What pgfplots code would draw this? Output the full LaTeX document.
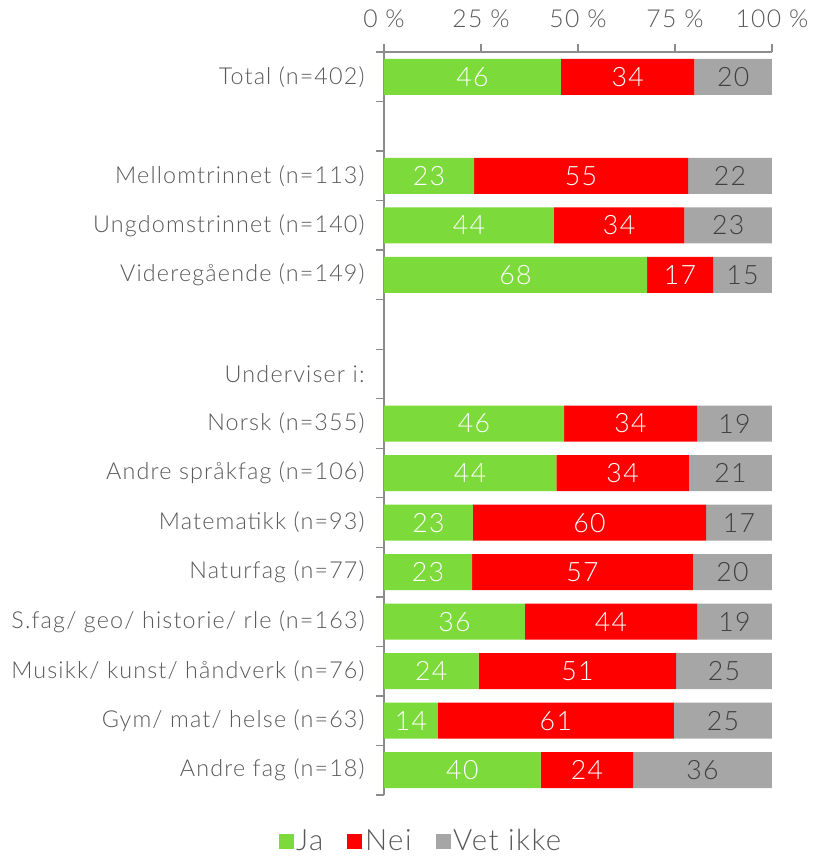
\documentclass[border=0pt]{standalone}
\usepackage{pgfplots}
\pgfplotsset{compat=1.18}
\usepackage{pgfplotstable}
\usepackage{fontspec}
\setmainfont{Lato Light}[LetterSpace=5]
\definecolor{cgreen}{HTML}{7CDA3A}
\definecolor{cred}{HTML}{FF0000}
\definecolor{cgray}{HTML}{A6A6A6}
\definecolor{txt}{HTML}{595959}
\definecolor{axgray}{HTML}{8C8C8C}
\pgfplotstableread{
y ja nei vet
0 45.6 34.4 20.0
2 23.2 55.2 21.6
3 43.8 33.6 22.6
4 67.8 17.0 15.2
7 46.4 34.3 19.3
8 44.4 34.2 21.4
9 22.9 60.1 17.0
10 22.7 56.9 20.4
11 36.3 44.4 19.3
12 24.4 50.9 24.7
13 13.9 60.8 25.3
14 40.4 23.8 35.8
}\data
\begin{document}
\begin{tikzpicture}
\path[use as bounding box] (0,0) rectangle (609.75pt,643.5pt);
\begin{axis}[
  at={(288pt,47.25pt)}, anchor=south west,
  scale only axis, width=291pt, height=557.25pt,
  xbar stacked, bar width=27pt, clip=false,
  /pgf/number format/assume math mode=true,
  xmin=0, xmax=100, ymin=-0.5, ymax=14.5, y dir=reverse,
  axis x line*=top, axis y line*=left,
  axis line style={draw=axgray, line width=1pt, -},
  tick align=outside,
  xtick={0,25,50,75,100},
  xticklabels={0 \%,25 \%,50 \%,75 \%,100 \%},
  xticklabel style={font=\fontsize{18.5}{18.5}\selectfont, text=txt, yshift=8.5pt},
  major x tick style={draw=axgray, line width=1pt},
  major tick length=6pt,
  ytick={0,2,3,4,6,7,8,9,10,11,12,13,14},
  yticklabels={Total (n=402),Mellomtrinnet (n=113),Ungdomstrinnet (n=140),Videregående (n=149),Underviser i:,Norsk (n=355),Andre språkfag (n=106),Matematikk (n=93),Naturfag (n=77),S.fag/ geo/ historie/ rle (n=163),Musikk/ kunst/ håndverk (n=76),Gym/ mat/ helse (n=63),Andre fag (n=18)},
  yticklabel style={font=\fontsize{17.5}{17.5}\selectfont, text=txt, xshift=-5pt},
  major y tick style={draw=none},
  minor ytick={-0.5,0.5,...,14.5},
  minor y tick style={draw=axgray, line width=1pt},
  minor tick length=6pt,
  visualization depends on={rawx \as \w},
  nodes near coords={\pgfmathprintnumber[fixed,precision=0]{\w}},
  every node near coord/.append style={anchor=center, font=\fontsize{20}{20}\selectfont},
  legend style={at={(axis description cs:0.096,-0.062)}, anchor=center, draw=none, fill=none,
    font=\fontsize{22}{22}\selectfont, text=txt, legend columns=-1,
    /tikz/every even column/.append style={column sep=16pt}},
  legend image code/.code={\fill[#1] (0pt,-5.6pt) rectangle (11.25pt,5.6pt);},
]
\addplot[fill=cgreen, draw=none, every node near coord/.append style={text=white}]
  table[x=ja, y=y]{\data};
\addplot[fill=cred, draw=none, every node near coord/.append style={text=white}]
  table[x=nei, y=y]{\data};
\addplot[fill=cgray, draw=none, every node near coord/.append style={text=black!75}]
  table[x=vet, y=y]{\data};
\legend{Ja,Nei,Vet ikke}
\end{axis}
\end{tikzpicture}
\end{document}
